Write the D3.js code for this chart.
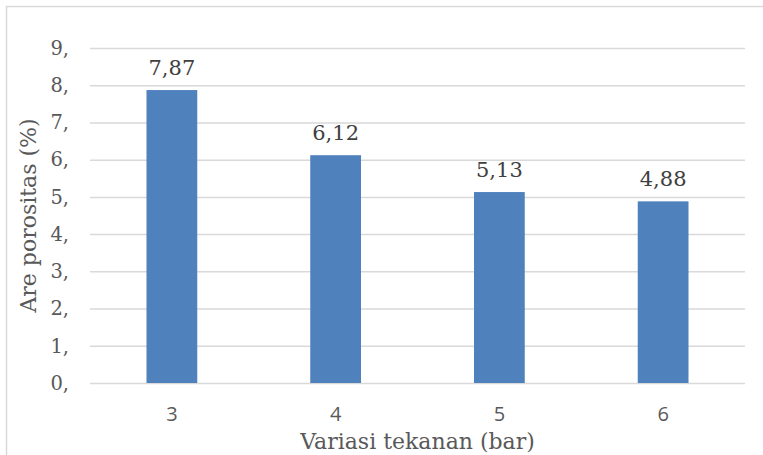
<!DOCTYPE html>
<html>
<head>
<meta charset="utf-8">
<script src="https://cdn.jsdelivr.net/npm/d3@7"></script>
<style>
  html, body { margin: 0; padding: 0; background: #fff; }
  svg { display: block; }
</style>
</head>
<body>
<svg id="chart" width="763" height="455"></svg>
<script>
// Pressure variations (bar) and measured porosity area (%)
const categories = ["3", "4", "5", "6"];
const porosity = [7.87, 6.12, 5.13, 4.88];
const yTicks = [0, 1, 2, 3, 4, 5, 6, 7, 8, 9];
const yTickLabels = ["0,", "1,", "2,", "3,", "4,", "5,", "6,", "7,", "8,", "9,"];
const valueLabels = ["7,87", "6,12", "5,13", "4,88"];

const svg = d3.select("#chart");
const W = 763, H = 455;
const margin = { left: 90, right: 18, top: 48, bottom: 72 };
const serif = "'DejaVu Serif', 'Liberation Serif', serif";

// outer chart frame (top and left edges visible)
svg.append("rect")
  .attr("x", 6.5).attr("y", 6.5)
  .attr("width", W + 20).attr("height", H + 20)
  .attr("fill", "none").attr("stroke", "#d9d9d9").attr("stroke-width", 1.5);

const x = d3.scaleBand()
  .domain(categories)
  .range([margin.left, W - margin.right])
  .paddingInner(0.69).paddingOuter(0.345);

const y = d3.scaleLinear()
  .domain([0, 9])
  .range([H - margin.bottom, margin.top]);

// horizontal gridlines
const yAxis = d3.axisLeft(y)
  .tickValues(yTicks)
  .tickSize(-(W - margin.right - margin.left))
  .tickFormat((d, i) => yTickLabels[i]);

const gy = svg.append("g")
  .attr("transform", `translate(${margin.left},0)`)
  .call(yAxis);
gy.select(".domain").remove();
gy.selectAll(".tick line").attr("stroke", "#d9d9d9").attr("stroke-width", 1.5);
gy.selectAll(".tick text")
  .attr("x", -21)
  .attr("dy", "0.32em")
  .attr("fill", "#595959")
  .style("font-family", serif)
  .style("font-size", "19.5px");

// bars
svg.append("g").selectAll("rect")
  .data(porosity)
  .join("rect")
  .attr("x", (d, i) => x(categories[i]))
  .attr("y", d => y(d))
  .attr("width", x.bandwidth())
  .attr("height", d => y(0) - y(d))
  .attr("fill", "#4f81bd");

// value labels above bars
svg.append("g").selectAll("text")
  .data(porosity)
  .join("text")
  .attr("x", (d, i) => x(categories[i]) + x.bandwidth() / 2)
  .attr("y", d => y(d) - 15)
  .attr("text-anchor", "middle")
  .attr("fill", "#404040")
  .style("font-family", serif)
  .style("font-size", "21px")
  .text((d, i) => valueLabels[i]);

// x axis labels
const xAxis = d3.axisBottom(x).tickSize(0);
const gx = svg.append("g")
  .attr("transform", `translate(0,${y(0)})`)
  .call(xAxis);
gx.select(".domain").remove();
gx.selectAll(".tick text")
  .attr("y", 0)
  .attr("dy", "38")
  .attr("fill", "#595959")
  .style("font-family", "'Open Sans', 'Liberation Sans', sans-serif")
  .style("font-size", "20px");

// axis titles
svg.append("text")
  .attr("x", (margin.left + W - margin.right) / 2)
  .attr("y", 449)
  .attr("text-anchor", "middle")
  .attr("fill", "#595959")
  .style("font-family", serif)
  .style("font-size", "22px")
  .text("Variasi tekanan (bar)");

svg.append("text")
  .attr("transform", `translate(36,${(margin.top + H - margin.bottom) / 2}) rotate(-90)`)
  .attr("text-anchor", "middle")
  .attr("fill", "#595959")
  .style("font-family", serif)
  .style("font-size", "22px")
  .text("Are porositas (%)");
</script>
</body>
</html>
